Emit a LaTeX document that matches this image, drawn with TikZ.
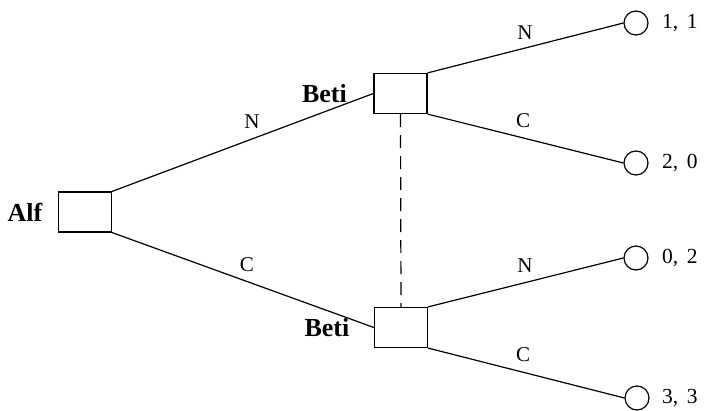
\documentclass[tikz,border=0pt]{standalone}
\usepackage{fontspec}
\setmainfont{Liberation Serif}
\usepackage{tikz}
\usetikzlibrary{positioning}

\tikzset{
  move/.style={draw, rectangle, minimum width=53pt, minimum height=40pt, inner sep=0pt},
  leaf/.style={draw, circle, minimum size=24pt, inner sep=0pt},
  player/.style={inner sep=0pt, font=\fontsize{26}{29}\selectfont\bfseries},
  payoff/.style={inner sep=0pt, font=\fontsize{21.5}{24}\selectfont},
}

\begin{document}
\begin{tikzpicture}[x=1pt, y=-1pt, line width=1.2pt, font=\fontsize{21}{24}\selectfont]
      \useasboundingbox (0, 0) rectangle (707, 411);

      \node[move] (alf) at (85, 212) {};
      \node[move] (betiN) at (400.5, 93.5) {};
      \node[move] (betiC) at (401, 327.5) {};

      \node[player, left=15pt of alf] (alfname) {Alf};
      \node[player, left=26pt of betiN] (betiNname) {Beti};
      \node[player, left=24pt of betiC] (betiCname) {Beti};

      \node[leaf] (o1) at (636, 23) {};
      \node[leaf] (o2) at (636, 163) {};
      \node[leaf] (o3) at (636, 258) {};
      \node[leaf] (o4) at (637, 398) {};

      \node[payoff, right=13pt of o1] (p1) {1,\hspace{0.4em}1};
      \node[payoff, right=13pt of o2] (p2) {2,\hspace{0.4em}0};
      \node[payoff, right=13pt of o3] (p3) {0,\hspace{0.4em}2};
      \node[payoff, right=12pt of o4] (p4) {3,\hspace{0.4em}3};

      \draw (alf.north east) -- (betiN.west);
      \draw (alf.south east) -- (betiC.west);
      \draw (betiN.north east) -- (o1.west);
      \draw (betiN.south east) -- (o2.west);
      \draw (betiC.north east) -- (o3.west);
      \draw (betiC.south east) -- (o4.west);
      \draw[dash pattern=on 13pt off 8pt] (betiN.south) -- (betiC.north);

      \node (lNa) at (252, 122) {N};
      \node (lCa) at (247, 265) {C};
      \node (lNb) at (525, 33) {N};
      \node (lCb) at (523, 121) {C};
      \node (lNc) at (525, 266) {N};
      \node (lCc) at (523, 355) {C};
    \end{tikzpicture}
\end{document}
